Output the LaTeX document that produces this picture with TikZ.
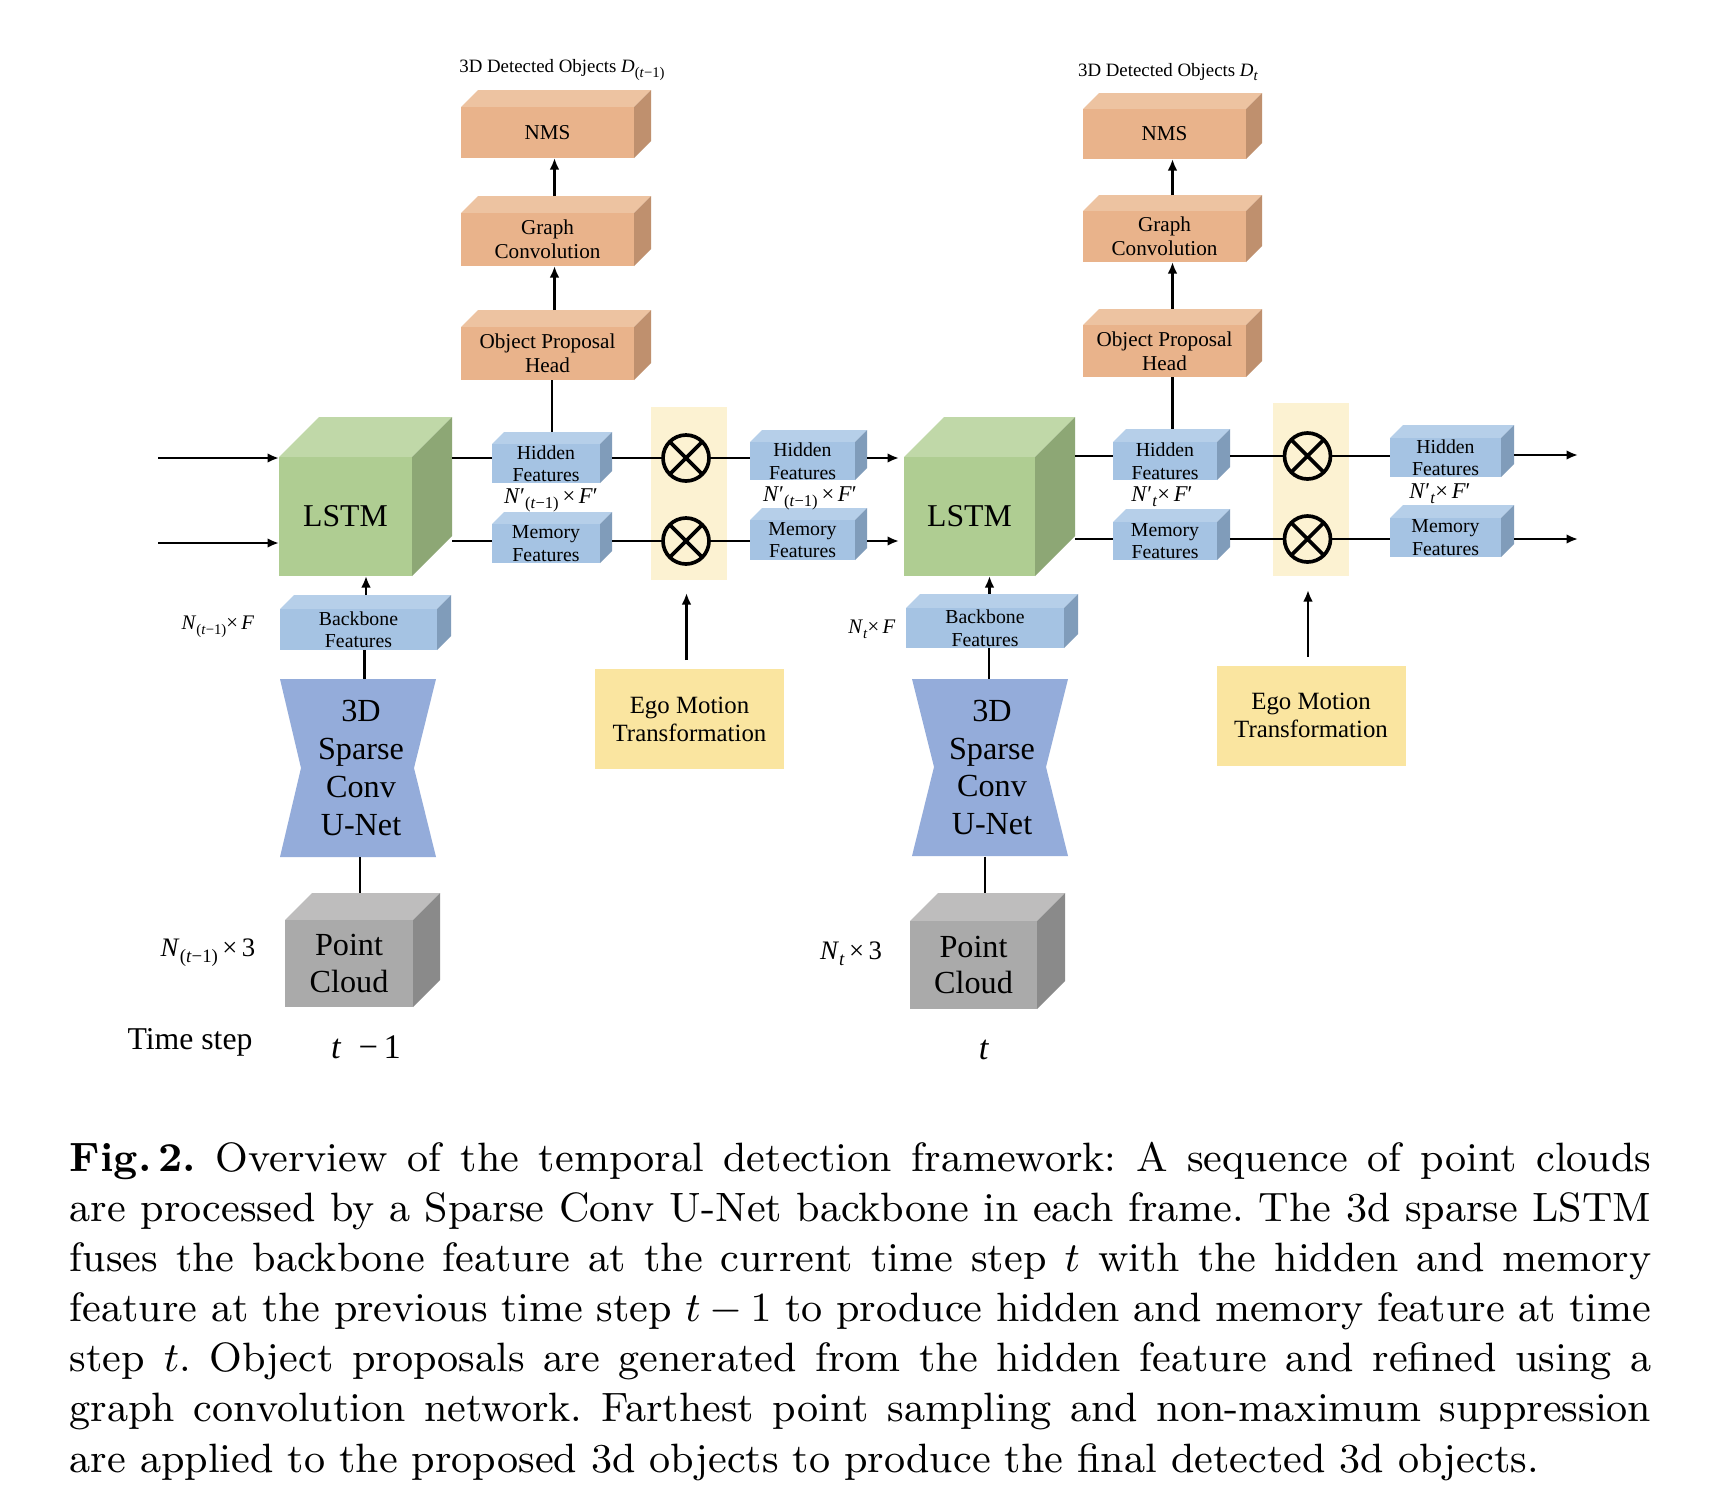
\documentclass[tikz,border=0pt]{standalone}
\usepackage{fontspec}
\newfontfamily\tms{Liberation Serif}
\usetikzlibrary{arrows.meta}
\def\upx{0.21739pt}
\newcommand{\lsub}[2]{\raisebox{-0.5ex}{\fontsize{#1}{#1}\selectfont #2}}
\definecolor{ortopc}{RGB}{237,195,161}
\definecolor{orfrontc}{RGB}{233,179,139}
\definecolor{orsidec}{RGB}{191,144,110}
\definecolor{bltopc}{RGB}{182,207,233}
\definecolor{blfrontc}{RGB}{165,195,227}
\definecolor{blsidec}{RGB}{128,156,186}
\definecolor{grtopc}{RGB}{192,216,168}
\definecolor{grfrontc}{RGB}{175,205,146}
\definecolor{grsidec}{RGB}{141,167,117}
\definecolor{gytopc}{RGB}{190,189,189}
\definecolor{gyfrontc}{RGB}{170,170,170}
\definecolor{gysidec}{RGB}{138,138,138}
\definecolor{unetc}{RGB}{148,172,218}
\definecolor{egoc}{RGB}{250,229,160}
\definecolor{stripc}{RGB}{252,242,210}
\tikzset{
  ortop/.style={fill=ortopc}, orside/.style={fill=orsidec},
  orfront/.style={fill=orfrontc, inner sep=0, outer sep=0, align=center, font=\tms\fontsize{4.6}{5.2}\selectfont},
  bltop/.style={fill=bltopc}, blside/.style={fill=blsidec},
  blfront/.style={fill=blfrontc, inner sep=0, outer sep=0, align=center, font=\tms\fontsize{4.3}{4.9}\selectfont},
  grtop/.style={fill=grtopc}, grside/.style={fill=grsidec},
  grfront/.style={fill=grfrontc, inner sep=0, outer sep=0, align=center, font=\tms\fontsize{6.9}{8}\selectfont},
  gytop/.style={fill=gytopc}, gyside/.style={fill=gysidec},
  gyfront/.style={fill=gyfrontc, inner sep=0, outer sep=0, align=center, font=\tms\fontsize{7}{8}\selectfont},
  unettext/.style={inner sep=0, outer sep=0, align=center, minimum width=156*\upx, minimum height=178*\upx, font=\tms\fontsize{7}{8.25}\selectfont},
  egobox/.style={fill=egoc, inner sep=0, outer sep=0, align=center, minimum width=189*\upx, minimum height=100*\upx, font=\tms\fontsize{5.4}{6.1}\selectfont},
  stripbox/.style={fill=stripc, inner sep=0, outer sep=0, minimum width=76*\upx, minimum height=173*\upx},
  otimesnode/.style={circle, draw, line width=0.8pt, inner sep=0, outer sep=0, minimum size=46*\upx},
  ln/.style={line width=0.62pt},
  arr/.style={line width=0.62pt, -{Latex[length=2.5pt,width=2.1pt]}},
  lab/.style={inner sep=0, font=\tms\fontsize{4.1}{5}\selectfont},
  dimlab/.style={inner sep=0, font=\tms\fontsize{4.9}{5.5}\selectfont},
  smalldim/.style={inner sep=0, font=\tms\fontsize{4.5}{5}\selectfont},
  pcdim/.style={inner sep=0, font=\tms\fontsize{5.8}{6.5}\selectfont},
  biglab/.style={inner sep=0, font=\tms\fontsize{6.9}{8}\selectfont},
}
\newcommand{\mkcube}[8]{%
  \fill[#7top] (#2,#3) -- ++(#6,-#6) -- ({#4+#6},{#3-#6}) -- (#4,#3) -- cycle;
  \fill[#7side] (#4,#3) -- ++(#6,-#6) -- ({#4+#6},{#5-#6}) -- (#4,#5) -- cycle;
  \node[#7front, minimum width={(#4-#2)*\upx}, minimum height={(#5-#3)*\upx}] (#1) at ({(#2+#4)/2},{(#3+#5)/2}) {#8};
}
\newcommand{\otimesat}[3]{%
  \node[otimesnode] (#1) at (#2,#3) {};
  \draw[line width=0.8pt] (#1.north west) -- (#1.south east) (#1.north east) -- (#1.south west);
}
\begin{document}
\begin{tikzpicture}[x=\upx, y=-\upx]
\fill[white] (0,0) rectangle (1725,1506);
\useasboundingbox (0,0) rectangle (1725,1506);

% yellow strips
\node[stripbox] (stripL) at (689,493.5) {};
\node[stripbox] (stripR) at (1310.5,489.5) {};

% orange heads
\mkcube{nmsL}{461}{107}{634}{158}{17}{or}{NMS}
\mkcube{gcL}{461}{213}{634}{266}{17}{or}{Graph\\Convolution}
\mkcube{ophL}{461}{327}{634}{380}{17}{or}{Object Proposal\\Head}
\mkcube{nmsR}{1083}{109}{1246}{159}{16}{or}{NMS}
\mkcube{gcR}{1083}{211}{1246}{262}{16}{or}{Graph\\Convolution}
\mkcube{ophR}{1083}{325}{1246}{377}{16}{or}{Object Proposal\\Head}

% LSTMs
\mkcube{lstmL}{279}{457}{412}{576}{40}{gr}{LSTM}
\mkcube{lstmR}{904}{457}{1035}{576}{40}{gr}{LSTM}

% feature blocks
\mkcube{hidL}{492}{444}{600}{483}{12}{bl}{Hidden\\Features}
\mkcube{memL}{492}{524}{600}{563}{12}{bl}{Memory\\Features}
\mkcube{hidLb}{750}{442}{855}{480}{12}{bl}{Hidden\\Features}
\mkcube{memLb}{750}{520}{855}{560}{12}{bl}{Memory\\Features}
\mkcube{hidR}{1113}{442}{1217}{480}{13}{bl}{Hidden\\Features}
\mkcube{memR}{1113}{522}{1217}{560}{13}{bl}{Memory\\Features}
\mkcube{hidRb}{1390}{438}{1501}{477}{13}{bl}{Hidden\\Features}
\mkcube{memRb}{1390}{518}{1501}{557}{13}{bl}{Memory\\Features}
\mkcube{bbL}{280}{609}{437}{650}{14}{bl}{Backbone\\Features}
\mkcube{bbR}{906}{608}{1064}{648}{14}{bl}{Backbone\\Features}

% U-Nets
\fill[unetc] (280,679) -- (436,679) -- (414,768) -- (436,857) -- (280,857) -- (301,768) -- cycle;
\node[unettext] (unetL) at (361,768) {3D\\Sparse\\Conv\\U-Net};
\fill[unetc] (912,679) -- (1068,679) -- (1046,767) -- (1068,856) -- (912,856) -- (934,767) -- cycle;
\node[unettext] (unetR) at (992,767.5) {3D\\Sparse\\Conv\\U-Net};

% point clouds
\mkcube{pcL}{285}{920}{413}{1007}{27}{gy}{Point\\Cloud}
\mkcube{pcR}{910}{921}{1037}{1009}{28}{gy}{Point\\Cloud}

% ego motion
\node[egobox] (egoL) at (689.5,719) {Ego Motion\\Transformation};
\node[egobox] (egoR) at (1311,715.5) {Ego Motion\\Transformation};

% otimes
\otimesat{oxHL}{686}{458}
\otimesat{oxML}{686}{541}
\otimesat{oxHR}{1307.5}{456}
\otimesat{oxMR}{1307.5}{539}

% free ends
\coordinate (inHL) at (158,458);
\coordinate (inML) at (158,543);
\coordinate (outHR) at (1578,455);
\coordinate (outMR) at (1578,539);

% vertical connectors, left
\draw[arr] ([xshift=7*\upx,yshift=17*\upx]gcL.north) -- ([xshift=7*\upx]nmsL.south);
\draw[arr] ([xshift=7*\upx,yshift=17*\upx]ophL.north) -- ([xshift=7*\upx]gcL.south);
\draw[ln] ([xshift=6*\upx,yshift=12*\upx]hidL.north) -- ([xshift=6*\upx]hidL.north |- ophL.south);
\draw[arr] ([xshift=7.5*\upx,yshift=14*\upx]bbL.north) -- ([xshift=7.5*\upx]bbL.north |- lstmL.south);
\draw[ln] ([xshift=6*\upx]bbL.south) -- ([xshift=6*\upx]bbL.south |- unetL.north);
\draw[ln] ([xshift=-1*\upx]unetL.south) -- ([xshift=-1*\upx,yshift=27*\upx]unetL.south |- pcL.north);
\draw[arr, shorten <={9*\upx}, shorten >={13*\upx}] ([xshift=-3*\upx]egoL.north) -- ([xshift=-3*\upx]egoL.north |- stripL.south);

% vertical connectors, right
\draw[arr] ([xshift=8*\upx,yshift=16*\upx]gcR.north) -- ([xshift=8*\upx]nmsR.south);
\draw[arr] ([xshift=8*\upx,yshift=16*\upx]ophR.north) -- ([xshift=8*\upx]gcR.south);
\draw[ln] ([xshift=7.5*\upx,yshift=13*\upx]hidR.north) -- ([xshift=7.5*\upx]hidR.north |- ophR.south);
\draw[arr] ([xshift=4.5*\upx,yshift=14*\upx]bbR.north) -- ([xshift=4.5*\upx]bbR.north |- lstmR.south);
\draw[ln] ([xshift=4*\upx]bbR.south) -- ([xshift=4*\upx]bbR.south |- unetR.north);
\draw[ln] ([xshift=-7*\upx]unetR.south) -- ([xshift=-7*\upx,yshift=28*\upx]unetR.south |- pcR.north);
\draw[arr, shorten <={9*\upx}, shorten >={14*\upx}] ([xshift=-3*\upx]egoR.north) -- ([xshift=-3*\upx]egoR.north |- stripR.south);

% horizontal connectors, left
\draw[arr] (inHL) -- (inHL -| lstmL.west);
\draw[arr] (inML) -- (inML -| lstmL.west);
\draw[ln] ([xshift=40*\upx]lstmL.east |- oxHL) -- (hidL.west |- oxHL);
\draw[ln] ([xshift=40*\upx]lstmL.east |- oxML) -- (memL.west |- oxML);
\draw[ln] ([xshift=12*\upx]hidL.east |- oxHL) -- (oxHL);
\draw[ln] ([xshift=12*\upx]memL.east |- oxML) -- (oxML);
\draw[ln] (oxHL) -- (hidLb.west |- oxHL);
\draw[ln] (oxML) -- (memLb.west |- oxML);
\draw[arr] ([xshift=12*\upx]hidLb.east |- oxHL) -- ([xshift=-5*\upx]lstmR.west |- oxHL);
\draw[arr] ([xshift=12*\upx]memLb.east |- oxML) -- ([xshift=-5*\upx]lstmR.west |- oxML);

% horizontal connectors, right
\draw[ln] ([xshift=40*\upx]lstmR.east |- oxHR) -- (hidR.west |- oxHR);
\draw[ln] ([xshift=40*\upx]lstmR.east |- oxMR) -- (memR.west |- oxMR);
\draw[ln] ([xshift=13*\upx]hidR.east |- oxHR) -- (oxHR);
\draw[ln] ([xshift=13*\upx]memR.east |- oxMR) -- (oxMR);
\draw[ln] (oxHR) -- (hidRb.west |- oxHR);
\draw[ln] (oxMR) -- (memRb.west |- oxMR);
\draw[arr] ([xshift=13*\upx]hidRb.east |- outHR) -- (outHR);
\draw[arr] ([xshift=13*\upx]memRb.east |- outMR) -- (outMR);

% labels
\node[lab] (titleL) at (562,70) {3D Detected Objects \textit{D}\lsub{3.2}{(\textit{t}−1)}};
\node[lab] (titleR) at (1168,72) {3D Detected Objects \textit{D}\lsub{3.2}{\textit{t}}};
\node[dimlab] (dhL) at (551,500) {\textit{N}′\lsub{3.6}{(\textit{t}−1)}\,×\,\textit{F}′};
\node[dimlab] (dhLb) at (810,498) {\textit{N}′\lsub{3.6}{(\textit{t}−1)}\,×\,\textit{F}′};
\node[dimlab] (dhR) at (1162,497) {\textit{N}′\lsub{3.6}{\textit{t}}×\,\textit{F}′};
\node[dimlab] (dhRb) at (1440,494) {\textit{N}′\lsub{3.6}{\textit{t}}×\,\textit{F}′};
\node[smalldim] (dbL) at (218,627) {\textit{N}\lsub{3.2}{(\textit{t}−1)}×\,\textit{F}};
\node[smalldim] (dbR) at (872,629) {\textit{N}\lsub{3.2}{\textit{t}}×\,\textit{F}};
\node[pcdim] (dpL) at (208,953) {\textit{N}\lsub{4.1}{(\textit{t}−1)}\,×\,3};
\node[pcdim] (dpR) at (851,954) {\textit{N}\lsub{4.1}{\textit{t}}\,×\,3};
\node[biglab] (tstep) at (190,1042) {Time step};
\node[inner sep=0, font=\tms\fontsize{7.5}{8.5}\selectfont] (tm1) at (366,1047) {\textit{t}\enspace−\,1};
\node[inner sep=0, font=\tms\fontsize{7.5}{8.5}\selectfont] (tt) at (984,1050) {\textit{t}};

% caption
\node[anchor=north west, inner sep=0, text width=343.8pt, align=justify, font=\fontsize{8.91}{10.9}\selectfont\frenchspacing] (cap) at (69,1141)
{\textbf{Fig.\,2.} Overview of the temporal detection framework: A sequence of point clouds\linebreak
are processed by a Sparse Conv U-Net backbone in each frame. The 3d sparse LSTM\linebreak
fuses the backbone feature at the current time step $t$ with the hidden and memory\linebreak
feature at the previous time step $t-1$ to produce hidden and memory feature at time\linebreak
step $t$. Object proposals are generated from the hidden feature and refined using a\linebreak
graph convolution network. Farthest point sampling and non-maximum suppression\linebreak
are applied to the proposed 3d objects to produce the final detected 3d objects.};
\end{tikzpicture}
\end{document}
